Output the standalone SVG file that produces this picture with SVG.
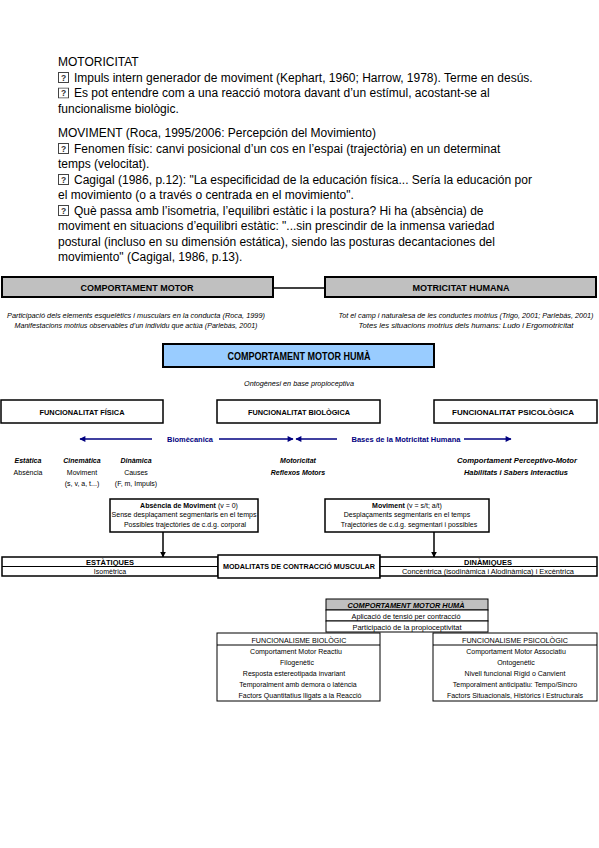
<svg xmlns="http://www.w3.org/2000/svg" width="599" height="848" viewBox="0 0 599 848">
<defs>
<style>
text{font-family:"Liberation Sans",Arial,sans-serif;fill:#000}
.t{font-size:12px}
.q{font-size:8.5px;font-weight:bold;fill:#333;text-anchor:middle}
.qb{fill:#fff;stroke:#444;stroke-width:1}
.hb{font-size:9px;font-weight:bold;text-anchor:middle}
.sm{font-size:7px;text-anchor:middle}
.sb{font-size:7.5px;font-weight:bold;text-anchor:middle}
.it{font-style:italic}
.b{font-weight:bold}
.blue{fill:#000080;font-weight:bold;font-size:8px;text-anchor:middle}
.gray{fill:#c0c0c0;stroke:#000;stroke-width:2}
.lb{fill:#99ccff;stroke:#000;stroke-width:2}
.box{fill:#fff;stroke:#000;stroke-width:1.5}
.cell{fill:#fff;stroke:#000;stroke-width:1}
.bl{stroke:#000080;stroke-width:1.5;fill:none}
.kl{stroke:#000;stroke-width:1.5;fill:none}
</style>
<symbol id="qm" viewBox="0 0 11 11" width="11" height="11">
<rect class="qb" x="0.5" y="0.5" width="10" height="10"/>
<text class="q" x="5.5" y="8.5">?</text>
</symbol>
<marker id="ab" viewBox="0 0 10 10" refX="9" refY="5" markerWidth="7" markerHeight="6" orient="auto" markerUnits="userSpaceOnUse">
<path d="M0,0 L10,5 L0,10 Z" fill="#000080"/>
</marker>
<marker id="ak" viewBox="0 0 10 10" refX="9" refY="5" markerWidth="6" markerHeight="6" orient="auto" markerUnits="userSpaceOnUse">
<path d="M0,0 L10,5 L0,10 Z" fill="#000"/>
</marker>
</defs>
<rect width="599" height="848" fill="#fff"/>

<g id="intro">
<text class="t" x="58" y="66">MOTORICITAT</text>
<use href="#qm" x="58" y="72"/>
<text class="t" x="74" y="81.5">Impuls intern generador de moviment (Kephart, 1960; Harrow, 1978). Terme en desús.</text>
<use href="#qm" x="58" y="87.5"/>
<text class="t" x="74" y="97">Es pot entendre com a una reacció motora davant d’un estímul, acostant-se al</text>
<text class="t" x="58" y="112.5">funcionalisme biològic.</text>

<text class="t" x="58" y="137">MOVIMENT (Roca, 1995/2006: Percepción del Movimiento)</text>
<use href="#qm" x="58" y="143"/>
<text class="t" x="74" y="152.5">Fenomen físic: canvi posicional d’un cos en l’espai (trajectòria) en un determinat</text>
<text class="t" x="58" y="168">temps (velocitat).</text>
<use href="#qm" x="58" y="174"/>
<text class="t" x="74" y="183.5">Cagigal (1986, p.12): "La especificidad de la educación física... Sería la educación por</text>
<text class="t" x="58" y="199">el movimiento (o a través o centrada en el movimiento".</text>
<use href="#qm" x="58" y="205"/>
<text class="t" x="74" y="214.5">Què passa amb l’isometria, l’equilibri estàtic i la postura? Hi ha (absència) de</text>
<text class="t" x="58" y="230">moviment en situacions d’equilibri estàtic: "...sin prescindir de la inmensa variedad</text>
<text class="t" x="58" y="245.5">postural (incluso en su dimensión estática), siendo las posturas decantaciones del</text>
<text class="t" x="58" y="261">movimiento" (Cagigal, 1986, p.13).</text>
</g>

<g id="connectors">
<line class="kl" x1="274" y1="288" x2="325" y2="288"/>
<line class="bl" x1="152" y1="439" x2="80" y2="439" marker-end="url(#ab)"/>
<line class="bl" x1="219" y1="439" x2="293" y2="439" marker-end="url(#ab)"/>
<line class="bl" x1="337" y1="439" x2="296" y2="439" marker-end="url(#ab)"/>
<line class="bl" x1="464" y1="439" x2="511" y2="439" marker-end="url(#ab)"/>
<line class="kl" x1="163" y1="532" x2="163" y2="557" marker-end="url(#ak)"/>
<line class="kl" x1="434" y1="532" x2="434" y2="557" marker-end="url(#ak)"/>
</g>

<g id="comportament-motor">
<rect class="gray" x="2" y="277" width="271" height="20"/>
<text class="hb" x="137" y="291" textLength="113" lengthAdjust="spacingAndGlyphs">COMPORTAMENT MOTOR</text>
<text class="sm it" x="136" y="318" textLength="258" lengthAdjust="spacingAndGlyphs">Participació dels elements esquelètics i musculars en la conducta (Roca, 1999)</text>
<text class="sm it" x="136" y="328" textLength="243" lengthAdjust="spacingAndGlyphs">Manifestacions motrius observables d’un individu que actúa (Parlebás, 2001)</text>
</g>

<g id="motricitat-humana">
<rect class="gray" x="325" y="277" width="271" height="20"/>
<text class="hb" x="461" y="291" textLength="97" lengthAdjust="spacingAndGlyphs">MOTRICITAT HUMANA</text>
<text class="sm it" x="466" y="318" textLength="255" lengthAdjust="spacingAndGlyphs">Tot el camp i naturalesa de les conductes motrius (Trigo, 2001; Parlebás, 2001)</text>
<text class="sm it" x="466" y="328" textLength="215" lengthAdjust="spacingAndGlyphs">Totes les situacions motrius dels humans: Ludo i Ergomotricitat</text>
</g>

<g id="comportament-motor-huma">
<rect class="lb" x="163" y="344" width="271" height="23"/>
<text class="b" x="299" y="359.5" font-size="10.5" text-anchor="middle" textLength="143" lengthAdjust="spacingAndGlyphs">COMPORTAMENT MOTOR HUMÀ</text>
<text class="sm it" x="299" y="386" textLength="110" lengthAdjust="spacingAndGlyphs">Ontogènesi en base propioceptiva</text>
</g>

<g id="funcionalitat-fisica">
<rect class="box" x="1" y="400" width="162" height="23"/>
<text class="sb" x="82" y="414.5" textLength="85" lengthAdjust="spacingAndGlyphs">FUNCIONALITAT FÍSICA</text>
</g>
<g id="funcionalitat-biologica">
<rect class="box" x="217" y="400" width="163" height="23"/>
<text class="sb" x="299" y="414.5" textLength="102" lengthAdjust="spacingAndGlyphs">FUNCIONALITAT BIOLÒGICA</text>
</g>
<g id="funcionalitat-psicologica">
<rect class="box" x="434" y="400" width="163" height="23"/>
<text class="sb" x="513" y="414.5" textLength="122" lengthAdjust="spacingAndGlyphs">FUNCIONALITAT PSICOLÒGICA</text>
</g>

<g id="labels-arrows">
<text class="blue" x="190" y="442" textLength="46" lengthAdjust="spacingAndGlyphs">Biomècanica</text>
<text class="blue" x="406" y="442" textLength="109" lengthAdjust="spacingAndGlyphs">Bases de la Motricitat Humana</text>
</g>

<g id="fisica-detail">
<text class="sm it b" x="28" y="462.5">Estàtica</text>
<text class="sm" x="28" y="475">Absència</text>
<text class="sm it b" x="82" y="462.5">Cinemàtica</text>
<text class="sm" x="82" y="475">Moviment</text>
<text class="sm" x="82" y="485.5">(s, v, a, t...)</text>
<text class="sm it b" x="136" y="462.5">Dinàmica</text>
<text class="sm" x="136" y="475">Causes</text>
<text class="sm" x="136" y="485.5">(F, m, Impuls)</text>
</g>
<g id="biologica-detail">
<text class="sm it b" x="298" y="462.5">Motoricitat</text>
<text class="sm it b" x="298" y="474.5">Reflexos Motors</text>
</g>
<g id="psicologica-detail">
<text class="sm it b" x="517" y="462.5" textLength="120" lengthAdjust="spacingAndGlyphs">Comportament Perceptivo-Motor</text>
<text class="sm it b" x="516" y="474.5" textLength="104" lengthAdjust="spacingAndGlyphs">Habilitats i Sabers Interactius</text>
</g>

<g id="absencia-moviment">
<rect class="box" x="110" y="499" width="148" height="33"/>
<text class="sm" x="189" y="507.5"><tspan font-weight="bold">Absència de Moviment</tspan>  (v = 0)</text>
<text class="sm" x="184" y="517" textLength="145" lengthAdjust="spacingAndGlyphs">Sense desplaçament segmentaris en el temps</text>
<text class="sm" x="185" y="527">Possibles trajectòries de c.d.g. corporal</text>
</g>
<g id="moviment">
<rect class="box" x="325" y="499" width="164" height="33"/>
<text class="sm" x="407" y="507.5"><tspan font-weight="bold">Moviment</tspan>  (v = s/t; a/t)</text>
<text class="sm" x="407" y="517">Desplaçaments segmentaris en el temps</text>
<text class="sm" x="409" y="527">Trajectòries de c.d.g. segmentari i possibles</text>
</g>

<g id="estatiques">
<rect class="box" x="2" y="557" width="216" height="19"/>
<line class="cell" x1="2" y1="566.5" x2="218" y2="566.5"/>
<text class="sb" x="110" y="564.5" font-size="7">ESTÀTIQUES</text>
<text class="sm" x="110" y="574">Isomètrica</text>
</g>
<g id="modalitats">
<rect class="box" x="218" y="555" width="162" height="23"/>
<text class="sb" x="299" y="569" textLength="152" lengthAdjust="spacingAndGlyphs">MODALITATS DE CONTRACCIÓ MUSCULAR</text>
</g>
<g id="dinamiques">
<rect class="box" x="380" y="557" width="217" height="19"/>
<line class="cell" x1="380" y1="566.5" x2="597" y2="566.5"/>
<text class="sb" x="488" y="564.5" font-size="7">DINÀMIQUES</text>
<text class="sm" x="488" y="574" textLength="172" lengthAdjust="spacingAndGlyphs">Concèntrica (isodinàmica i Alodinàmica) i Excèntrica</text>
</g>

<g id="comportament-motor-huma-2">
<rect x="326" y="599" width="162" height="11" fill="#c0c0c0" stroke="#000" stroke-width="1"/>
<rect class="cell" x="326" y="610" width="162" height="11"/>
<rect class="cell" x="326" y="621" width="162" height="11"/>
<text class="sm it b" x="406" y="607.5" textLength="117" lengthAdjust="spacingAndGlyphs">COMPORTAMENT MOTOR HUMÀ</text>
<text class="sm" x="406" y="618.5" textLength="109" lengthAdjust="spacingAndGlyphs">Aplicació de tensió per contracció</text>
<text class="sm" x="407" y="629.5" textLength="109" lengthAdjust="spacingAndGlyphs">Participació de la propioceptivitat</text>
</g>

<g id="funcionalisme-biologic">
<rect class="cell" x="217" y="633" width="163" height="68" stroke-width="1.3"/>
<line class="cell" x1="217" y1="645" x2="380" y2="645"/>
<text class="sm" x="299" y="642.5" font-size="7.5" textLength="95" lengthAdjust="spacingAndGlyphs">FUNCIONALISME BIOLÒGIC</text>
<text class="sm" x="296" y="653.5">Comportament Motor Reactiu</text>
<text class="sm" x="297" y="664.5">Filogenètic</text>
<text class="sm" x="294" y="676">Resposta estereotipada invariant</text>
<text class="sm" x="298" y="687">Temporalment amb demora o latència</text>
<text class="sm" x="300" y="697.5">Factors Quantitatius lligats a la Reacció</text>
</g>

<g id="funcionalisme-psicologic">
<rect class="cell" x="433" y="633" width="164" height="68" stroke-width="1.3"/>
<line class="cell" x1="433" y1="645" x2="597" y2="645"/>
<text class="sm" x="515" y="642.5" font-size="7.5" textLength="106" lengthAdjust="spacingAndGlyphs">FUNCIONALISME PSICOLÒGIC</text>
<text class="sm" x="516" y="653.5">Comportament Motor Associatiu</text>
<text class="sm" x="516" y="664.5">Ontogenètic</text>
<text class="sm" x="515" y="676">Nivell funcional Rígid o Canvient</text>
<text class="sm" x="515" y="687">Temporalment anticipatiu: Tempo/Sincro</text>
<text class="sm" x="515" y="697.5">Factors Situacionals, Històrics i Estructurals</text>
</g>
</svg>
